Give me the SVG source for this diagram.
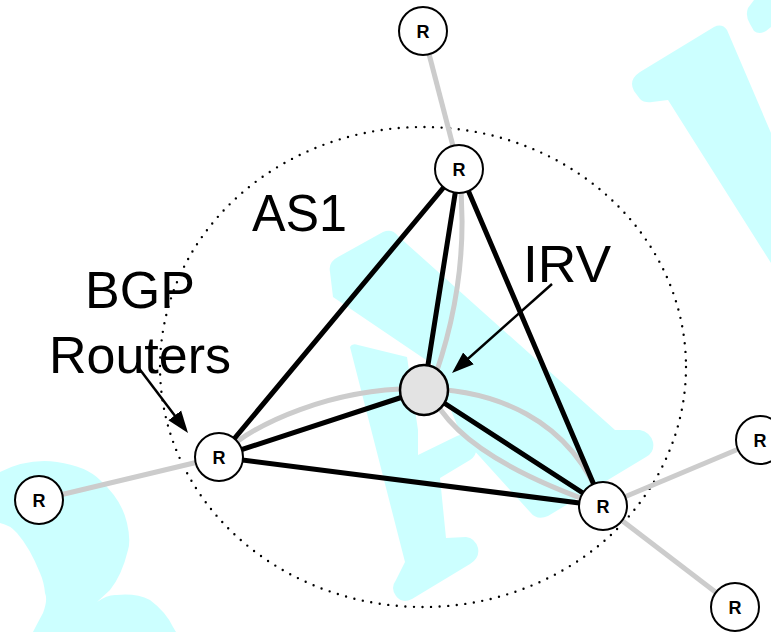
<svg xmlns="http://www.w3.org/2000/svg" width="771" height="632" viewBox="0 0 771 632">
  <style>
    .wm { fill: #ccffff; stroke: none; }
    .peer { fill: none; stroke: #cccccc; stroke-width: 5; }
    .ibgp { fill: none; stroke: #000000; stroke-width: 5; stroke-linecap: round; }
    .ptr { fill: none; stroke: #000000; stroke-width: 2.5; }
    .router circle { fill: #ffffff; stroke: #000000; stroke-width: 2; }
    .router text { font-family: "Liberation Sans", Arial, sans-serif; font-weight: bold; font-size: 18px; text-anchor: middle; fill: #000000; }
    .label { font-family: "Liberation Sans", Arial, sans-serif; font-size: 52px; fill: #000000; }
  </style>
  <defs>
    <marker id="head" markerUnits="userSpaceOnUse" markerWidth="22" markerHeight="18" refX="16" refY="9" orient="auto">
      <path d="M0,1 L22,9 L0,17 Z" fill="#000000"/>
    </marker>
  </defs>

  <rect width="771" height="632" fill="#ffffff"/>

  <!-- background watermark letters -->
  <g id="watermark">
    <path class="wm" d="M771,133 L727,30 Q722,23 714,27 L640,72 Q628,80 634,91 L640,99 Q644,103 652,102 L668,100 L771,263 Z"/>
    <path class="wm" d="M754,0 L748,8 Q745,16 750,24 L754,31 Q759,35 766,31 L771,27 L771,0 Z"/>
    <path class="wm" d="M333,297 L330,272 Q328,262 338,257 L383,232 Q392,228 398,236 L615,430 L640,430 Q650,432 653,442 Q655,452 646,457 L548,516 Q537,521 530,512 L462,437 L432,364 Z"/>
    <path class="wm" d="M350,347 Q352,343 358,345 L407,357 L418,430 L418,455 L457,436 Q470,430 476,445 Q478,455 470,460 L440,478 L446,538 L466,537 Q475,538 478,548 Q480,558 470,564 L412,599 Q402,604 396,596 Q390,588 396,580 L405,562 Z"/>
    <path class="wm" d="M0,472 Q28,458 57,462 Q86,466 100,480 Q122,500 127,523 Q131,540 128,550 Q122,575 110,590 L97,602 Q108,594 117,595 Q136,593 150,600 Q166,612 173,627 L176,632 L33,632 Q37,624 43,613 Q48,600 45,593 Q44,582 40,573 Q30,548 17,533 Q10,525 0,523 Z"/>
  </g>

  <!-- AS boundary -->
  <ellipse id="as1-boundary" cx="423" cy="367" rx="263" ry="240" fill="none" stroke="#000000" stroke-width="2.4" stroke-linecap="round" stroke-dasharray="0 8.6"/>

  <!-- connectors -->
  <g id="connectors">
    <!-- external / IRV links in grey -->
    <line class="peer" x1="423" y1="31" x2="459" y2="169"/>
    <line class="peer" x1="39" y1="500" x2="219" y2="457"/>
    <line class="peer" x1="603" y1="506" x2="760" y2="440"/>
    <line class="peer" x1="603" y1="506" x2="735" y2="607"/>
    <path class="peer" d="M219,457 C290,385 540,330 603,506"/>
    <path class="peer" d="M459,169 Q472,280 430,390 Q455,455 603,506"/>
    <!-- iBGP mesh in black -->
    <line class="ibgp" x1="459" y1="169" x2="219" y2="457"/>
    <line class="ibgp" x1="459" y1="169" x2="424" y2="390"/>
    <line class="ibgp" x1="459" y1="169" x2="603" y2="506"/>
    <line class="ibgp" x1="219" y1="457" x2="424" y2="390"/>
    <line class="ibgp" x1="219" y1="457" x2="603" y2="506"/>
    <line class="ibgp" x1="424" y1="390" x2="603" y2="506"/>
    <!-- label pointers -->
    <line class="ptr" x1="552" y1="284" x2="456.5" y2="369" marker-end="url(#head)"/>
    <line class="ptr" x1="138" y1="367" x2="184.4" y2="428.2" marker-end="url(#head)"/>
  </g>

  <!-- nodes -->
  <g id="r-top-outer" class="router"><circle cx="423" cy="31" r="24"/><text x="423" y="38">R</text></g>
  <g id="r-top" class="router"><circle cx="459" cy="169" r="24"/><text x="459" y="176">R</text></g>
  <g id="r-left" class="router"><circle cx="219" cy="457" r="24"/><text x="219" y="464">R</text></g>
  <g id="r-left-outer" class="router"><circle cx="39" cy="500" r="24"/><text x="39" y="507">R</text></g>
  <g id="r-right" class="router"><circle cx="603" cy="506" r="24"/><text x="603" y="513">R</text></g>
  <g id="r-right-outer" class="router"><circle cx="760" cy="440" r="24"/><text x="760" y="447">R</text></g>
  <g id="r-bottom-outer" class="router"><circle cx="735" cy="607" r="24"/><text x="735" y="614">R</text></g>
  <g id="irv"><ellipse cx="424" cy="390" rx="24" ry="25" fill="#e3e3e3" stroke="#000000" stroke-width="2.5"/></g>

  <!-- labels -->
  <g id="labels">
    <text class="label" x="252" y="231" textLength="95" lengthAdjust="spacingAndGlyphs">AS1</text>
    <text class="label" x="523" y="282" textLength="88" lengthAdjust="spacingAndGlyphs">IRV</text>
    <text class="label" x="140" y="308" text-anchor="middle">BGP</text>
    <text class="label" x="140" y="373" text-anchor="middle">Routers</text>
  </g>
</svg>
